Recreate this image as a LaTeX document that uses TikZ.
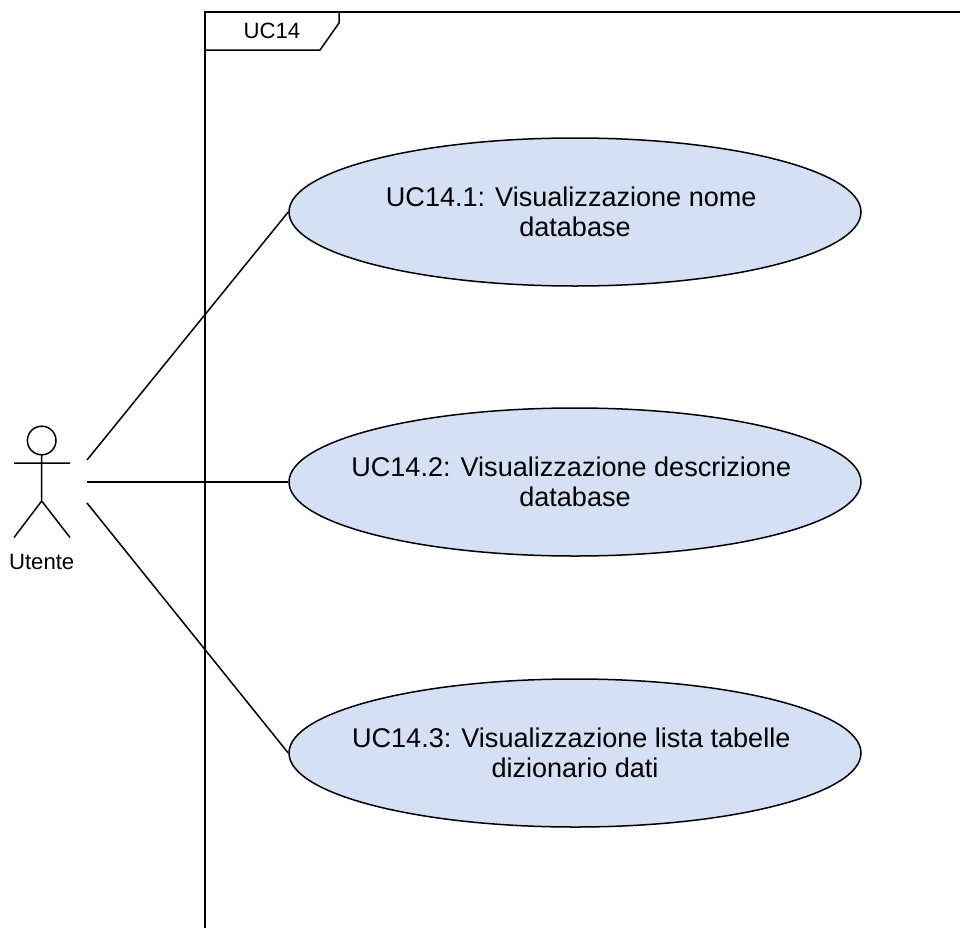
\documentclass[tikz,border=0pt]{standalone}
\usepackage{fontspec}
\setmainfont{Liberation Sans}
\usetikzlibrary{shapes.geometric}
\definecolor{ucfill}{HTML}{D4E1F5}
\newcommand{\ucline}[1]{\makebox[0pt][c]{#1}}
\tikzset{
  x=0.75pt,y=-0.75pt,
  ln/.style={draw=black,line width=1.5*0.75pt},
  usecase/.style={ln,ellipse,fill=ucfill,minimum width=429pt,minimum height=111pt,inner sep=0pt,align=center,font=\fontsize{20.3pt}{22.8pt}\selectfont},
  lbl/.style={inner sep=0pt,font=\fontsize{16.6pt}{20pt}\selectfont}
}
\begin{document}
\begin{tikzpicture}
\useasboundingbox (0,0) rectangle (960,928);
\draw[ln] (205,928) -- (205,12) -- (960,12);
\draw[ln] (205,50) -- (320,50) -- (339,23) -- (339,12);
\node[lbl] (frame) at (272,31) {UC14};
\node[usecase] (u1) at (575,212) {\ucline{UC14.1: Visualizzazione nome\ }\\\ucline{database}};
\node[usecase] (u2) at (575,482) {\ucline{UC14.2: Visualizzazione descrizione\ }\\\ucline{database}};
\node[usecase] (u3) at (575,753) {\ucline{UC14.3: Visualizzazione lista tabelle\ }\\\ucline{dizionario dati}};
\draw[ln] (41.7,440.5) circle[radius=14.3];
\draw[ln] (41.7,455) -- (41.7,501) (14,463) -- (70,463) (14,537.5) -- (41.7,501) -- (70,537.5);
\node[lbl] (actor) at (41.7,562) {Utente};
\coordinate (a1) at (87,460);
\coordinate (a2) at (87,482);
\coordinate (a3) at (87,503);
\draw[ln] (a1) -- (u1.west);
\draw[ln] (a2) -- (u2.west);
\draw[ln] (a3) -- (u3.west);
\end{tikzpicture}
\end{document}
